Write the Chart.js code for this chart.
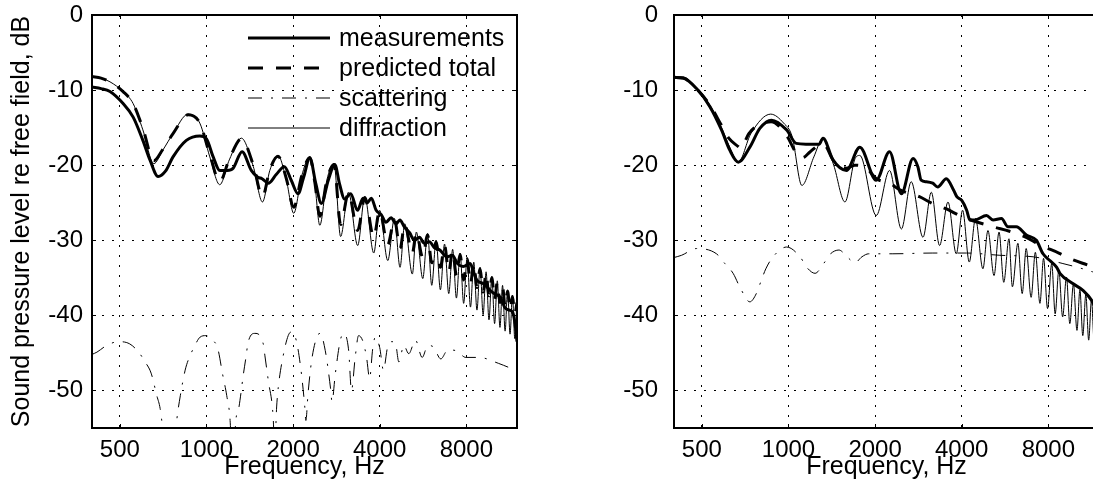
<!DOCTYPE html>
<html lang="en">
<head>
<meta charset="UTF-8">
<title>Sound pressure level re free field</title>
<script src="https://cdn.jsdelivr.net/npm/chart.js@4.4.1/dist/chart.umd.min.js"></script>
<style>
    html, body {
        margin: 0;
        padding: 0;
        background: #fff;
        overflow: hidden;
        width: 1093px;
        height: 487px;
    }
    .panel { position: absolute; top: 0; }
    #left { left: 0; }
    #right { left: 560px; }
</style>
</head>
<body>
<canvas id="left" class="panel" width="540" height="487"></canvas>
<canvas id="right" class="panel" width="560" height="487"></canvas>

<script>
// axis ticks
const xTicks = [500, 1000, 2000, 4000, 8000];
const yTicks = [-50, -40, -30, -20, -10, 0];
const legendNames = ['measurements', 'predicted total', 'scattering', 'diffraction'];

// ---- left panel, [Hz, dB] ----
const measLeft = [
    [400,-9.6],[430,-9.8],[462,-10.2],[513,-11.8],[556,-13.6],[601,-16.7],[636,-19.3],[679,-21.5],
    [720,-20.8],[765,-18.9],[851,-16.7],[948,-16.1],[1000,-16.5],[1055,-18.9],[1112,-20.7],[1180,-20.7],
    [1238,-20.4],[1329,-18.2],[1431,-20.7],[1508,-21.6],[1560,-21.8],[1640,-22.4],[1750,-21.2],[1865,-20.2],
    [1970,-22.0],[2080,-23.8],[2180,-21.5],[2285,-19.0],[2400,-22.5],[2507,-25.1],[2650,-22.0],[2792,-19.9],
    [2900,-22.5],[3020,-24.5],[3170,-23.8],[3350,-26.0],[3500,-24.4],[3620,-25.0],[3740,-24.4],[3887,-26.0],
    [4050,-26.6],[4205,-27.6],[4380,-27.0],[4560,-27.8],[4700,-27.3],[4870,-28.2],[5080,-29.0],[5280,-30.0],
    [5500,-29.6],[5710,-30.4],[5950,-30.2],[6200,-31.0],[6470,-31.3],[6840,-32.2],[7150,-32.0],[7450,-33.1],
    [7800,-33.5],[8250,-33.1],[8500,-34.4],[8700,-35.3],[9200,-35.8],[9700,-36.7],[10000,-37.1],[10500,-37.6],
    [10900,-39.0],[11300,-39.3],[11600,-39.6],[11800,-41.0],[12000,-43.5]
];
const predLeft = [
    [400,-8.2],[430,-8.4],[462,-8.9],[513,-10.2],[556,-11.8],[601,-15.1],[656,-19.4],[705,-17.9],
    [765,-15.8],[863,-13.3],[948,-14.4],[1027,-18.6],[1112,-22.2],[1200,-19.2],[1322,-16.5],[1455,-20.0],
    [1565,-24.2],[1660,-20.6],[1772,-18.8],[1895,-21.8],[2010,-25.6],[2140,-21.5],[2285,-19.0],[2380,-22.3],
    [2476,-26.8],[2620,-22.0],[2775,-19.9],[2925,-27.9],[3116,-23.7],[3353,-28.7],[3550,-24.3],[3814,-29.6],
    [3996,-26.1],[4266,-30.6],[4500,-27.2],[4706,-31.1],[4886,-27.9],[5193,-31.7],[5362,-29.0],[5645,-32.3],
    [5866,-29.3],[6066,-33.0],[6280,-30.2],[6500,-33.6],[6720,-30.7],[6950,-34.2],[7170,-31.4],[7390,-34.7],
    [7610,-31.9],[7830,-35.3],[8050,-32.5],[8270,-35.8],[8490,-33.1],[8710,-36.3],[8930,-33.8],[9150,-36.9],
    [9370,-34.4],[9590,-37.4],[9810,-35.0],[10030,-37.9],[10250,-35.6],[10470,-38.3],[10690,-36.2],[10910,-38.8],
    [11130,-36.8],[11350,-39.2],[11570,-37.5],[11790,-39.8],[12000,-38.3]
];
const scatLeft = [
    [400,-45.2],[416,-44.9],[450,-44.0],[495,-43.5],[541,-43.8],[581,-44.9],[612,-46.2],[642,-47.7],
    [672,-50.7],[690,-52.4],[703,-54.9],[740,-65],[789,-53.8],[811,-50.7],[843,-47.3],[867,-45.8],
    [901,-44.4],[950,-42.9],[994,-42.7],[1042,-43.2],[1094,-44.4],[1137,-47.8],[1176,-50.7],[1208,-54.0],
    [1235,-62],[1262,-54.4],[1297,-52.2],[1344,-47.8],[1371,-45.6],[1395,-43.6],[1474,-42.4],[1575,-43.8],
    [1595,-45.3],[1640,-48.7],[1705,-53.6],[1725,-58],[1753,-52.2],[1776,-49.6],[1849,-45.3],[1923,-42.7],
    [1970,-42.2],[2050,-43.3],[2124,-46.9],[2194,-52.0],[2215,-54.0],[2254,-50.4],[2320,-46.0],[2417,-42.9],
    [2483,-42.4],[2587,-44.7],[2700,-49.8],[2730,-51.5],[2803,-47.8],[2919,-43.3],[2998,-42.4],[3120,-44.7],
    [3190,-50.0],[3287,-45.6],[3377,-42.7],[3500,-43.5],[3600,-45.6],[3690,-48.4],[3780,-44.5],[3860,-42.9],
    [4000,-44.3],[4120,-47.3],[4261,-44.2],[4400,-43.5],[4542,-43.8],[4661,-46.2],[4850,-44.0],[5046,-45.1],
    [5325,-43.3],[5618,-45.6],[5880,-44.0],[6146,-44.2],[6522,-45.8],[6900,-44.6],[7367,-44.7],[7969,-45.6],
    [8850,-45.6],[10360,-46.4],[11540,-47.1],[12000,-47.3]
];
const diffLeft = [
    [400,-8.2],[430,-8.4],[462,-8.9],[513,-10.2],[556,-11.8],[601,-15.3],[656,-19.8],[705,-18.0],
    [765,-15.8],[863,-13.2],[948,-14.4],[1027,-18.9],[1112,-22.6],[1200,-19.3],[1322,-16.4],[1455,-20.2],
    [1565,-24.9],[1660,-20.7],[1772,-18.7],[1895,-22.0],[2010,-26.4],[2140,-21.5],[2285,-18.9],[2380,-22.5],
    [2476,-28.0],[2620,-22.0],[2775,-19.8],[2925,-29.5],[3116,-23.6],[3353,-30.7],[3550,-24.2],[3814,-31.7],
    [3996,-26.0],[4266,-32.7],[4500,-27.1],[4706,-33.6],[4886,-27.8],[5193,-34.5],[5362,-28.9],[5645,-35.1],
    [5866,-29.1],[6066,-36.0],[6280,-30.0],[6500,-36.6],[6720,-30.5],[6950,-37.1],[7170,-31.2],[7390,-37.7],
    [7610,-31.7],[7830,-38.4],[8050,-32.3],[8270,-38.9],[8490,-32.9],[8710,-39.3],[8930,-33.6],[9150,-39.9],
    [9370,-34.2],[9590,-40.6],[9810,-34.8],[10030,-41.1],[10250,-35.4],[10470,-41.6],[10690,-36.0],[10910,-42.1],
    [11130,-36.6],[11350,-42.5],[11570,-37.3],[11790,-43.1],[12000,-38.0]
];

// ---- right panel ----
const measRight = [
    [400,-8.3],[431,-8.4],[479,-9.8],[533,-12.2],[585,-15.3],[625,-18.0],[669,-19.6],[734,-17.6],
    [795,-15.1],[873,-14.0],[985,-15.3],[1064,-17.1],[1150,-17.2],[1278,-17.2],[1318,-16.4],[1428,-19.3],
    [1590,-20.7],[1770,-17.6],[2018,-22.0],[2245,-18.2],[2468,-23.8],[2710,-19.1],[2816,-20.2],[2891,-22.0],
    [3012,-22.2],[3172,-22.4],[3300,-22.9],[3536,-21.8],[3746,-23.3],[3845,-24.2],[4001,-24.7],[4162,-26.0],
    [4270,-27.3],[4441,-27.3],[4878,-26.7],[5140,-27.3],[5497,-27.1],[5791,-28.2],[6193,-28.2],[6707,-29.3],
    [7268,-30.0],[7668,-31.8],[8098,-32.7],[8555,-33.6],[8777,-34.4],[9760,-35.8],[10580,-36.7],[11310,-38.0],
    [12000,-40.0]
];
const predRight = [
    [400,-8.3],[431,-8.4],[479,-9.8],[533,-12.0],[585,-14.7],[620,-16.4],[672,-17.6],[680,-17.8],
    [728,-15.8],[768,-14.9],[870,-14.2],[983,-16.0],[1077,-18.7],[1120,-19.0],[1190,-18.2],[1290,-17.3],
    [1330,-17.3],[1429,-19.3],[1594,-20.4],[1700,-20.0],[1865,-20.4],[2020,-21.8],[2245,-22.4],[2440,-23.3],
    [2850,-24.2],[3165,-25.1],[3525,-25.8],[4030,-26.9],[5135,-28.2],[5860,-28.8],[6700,-29.6],[7460,-30.6],
    [8700,-31.7],[9600,-32.5],[11450,-33.6],[12000,-34.0]
];
const scatRight = [
    [400,-32.3],[425,-32.0],[479,-31.1],[562,-31.8],[601,-33.1],[642,-34.4],[677,-36.2],[734,-38.2],
    [773,-37.1],[805,-35.3],[834,-33.8],[884,-32.2],[985,-30.9],[1097,-32.2],[1157,-33.6],[1237,-34.4],
    [1325,-33.1],[1400,-31.8],[1497,-31.3],[1608,-32.3],[1700,-33.0],[1800,-32.2],[1900,-31.8],[2305,-31.8],
    [3175,-31.7],[4160,-31.7],[5430,-32.0],[7080,-32.2],[8990,-33.1],[10540,-33.8],[11400,-34.2],[12000,-34.4]
];
const diffRight = [
    [400,-8.3],[431,-8.4],[479,-9.8],[533,-12.0],[585,-15.0],[625,-17.6],[669,-19.6],[740,-15.8],
    [867,-13.2],[962,-14.4],[1030,-16.2],[1113,-22.7],[1225,-18.9],[1318,-16.4],[1436,-20.0],[1571,-24.9],
    [1705,-19.1],[1770,-18.7],[2018,-26.7],[2245,-20.7],[2468,-28.5],[2670,-22.2],[2934,-29.6],[3136,-23.6],
    [3350,-30.7],[3584,-24.9],[3829,-31.8],[4028,-26.0],[4249,-32.9],[4466,-27.1],[4739,-33.8],[4934,-28.7],
    [5180,-34.7],[5392,-28.9],[5600,-35.6],[5837,-29.8],[6000,-36.2],[6270,-30.4],[6490,-37.1],[6700,-31.1],
    [6970,-37.6],[7210,-31.6],[7480,-38.4],[7700,-32.4],[7950,-39.1],[8220,-33.1],[8450,-39.8],[8700,-34.0],
    [8970,-40.2],[9250,-34.9],[9500,-41.1],[9780,-35.8],[10060,-42.0],[10300,-36.6],[10540,-42.7],[10800,-37.2],
    [11050,-43.3],[11300,-37.9],[11560,-43.8],[11800,-38.5],[12000,-44.0]
];

// line styles: measurements, predicted total, scattering, diffraction
const styles = [
    { width: 3, dash: [] },
    { width: 3, dash: [15, 13] },
    { width: 1, dash: [14, 9, 2, 9] },
    { width: 1, dash: [] }
];

Chart.defaults.font.family = "'Liberation Sans', Arial, Helvetica, sans-serif";
Chart.defaults.color = '#000';

const toPts = arr => arr.map(p => ({ x: p[0], y: p[1] }));

function series(arrs) {
    return arrs.map((arr, i) => ({
        label: legendNames[i],
        data: toPts(arr),
        borderColor: '#000',
        borderWidth: styles[i].width,
        borderDash: styles[i].dash,
        pointRadius: 0,
        fill: false,
        cubicInterpolationMode: 'monotone'
    }));
}

// box round the plot with inward tick marks
const boxPlugin = {
    id: 'box',
    afterDatasetsDraw(chart) {
        const { ctx, chartArea: a, scales: { x, y } } = chart;
        ctx.save();
        ctx.strokeStyle = '#000';
        ctx.setLineDash([]);
        ctx.lineWidth = 1;
        ctx.beginPath();
        xTicks.forEach(v => {
            const px = Math.round(x.getPixelForValue(v)) + 0.5;
            ctx.moveTo(px, a.bottom); ctx.lineTo(px, a.bottom - 4);
            ctx.moveTo(px, a.top); ctx.lineTo(px, a.top + 4);
        });
        yTicks.forEach(v => {
            const py = Math.round(y.getPixelForValue(v)) + 0.5;
            ctx.moveTo(a.left, py); ctx.lineTo(a.left + 4, py);
            ctx.moveTo(a.right, py); ctx.lineTo(a.right - 4, py);
        });
        ctx.stroke();
        ctx.lineWidth = 2;
        ctx.strokeRect(a.left, a.top, a.right - a.left, a.bottom - a.top);
        ctx.restore();
    }
};

// legend sits inside the left plot, top right
const keyPlugin = {
    id: 'key',
    afterDraw(chart) {
        const ctx = chart.ctx;
        ctx.save();
        ctx.strokeStyle = '#000';
        ctx.fillStyle = '#000';
        ctx.font = "25px 'Liberation Sans', Arial, sans-serif";
        ctx.textBaseline = 'middle';
        legendNames.forEach((name, i) => {
            const yy = 38 + i * 30;
            ctx.lineWidth = styles[i].width;
            ctx.setLineDash(styles[i].dash);
            ctx.beginPath();
            ctx.moveTo(248, yy);
            ctx.lineTo(330, yy);
            ctx.stroke();
            ctx.fillText(name, 339, yy + 1);
        });
        ctx.restore();
    }
};

function makeChart(id, arrs, o) {
    return new Chart(document.getElementById(id), {
        type: 'line',
        data: { datasets: series(arrs) },
        options: {
            responsive: false,
            animation: false,
            devicePixelRatio: 1,
            layout: { padding: { top: 15, right: o.padRight, left: 0, bottom: 0 } },
            plugins: { legend: { display: false }, tooltip: { enabled: false } },
            scales: {
                x: {
                    type: 'logarithmic',
                    min: 400,
                    max: 12000,
                    afterBuildTicks: s => { s.ticks = xTicks.map(v => ({ value: v })); },
                    afterFit: s => { s.height = 59; s.paddingLeft = 0; s.paddingRight = 0; },
                    grid: { color: '#000', lineWidth: 1, drawTicks: false },
                    border: { display: false, dash: [2, 8] },
                    ticks: {
                        padding: 8, autoSkip: false, maxRotation: 0,
                        font: { size: 24 },
                        callback: v => String(v)
                    },
                    title: {
                        display: true, text: 'Frequency, Hz',
                        font: { size: 25 }, padding: { top: 0, bottom: 5 }
                    }
                },
                y: {
                    type: 'linear',
                    min: -55,
                    max: 0,
                    afterBuildTicks: s => { s.ticks = yTicks.map(v => ({ value: v })); },
                    // keep the label overflow from pushing the plot area down
                    afterFit: s => { s.width = o.yWidth; s.paddingTop = 0; s.paddingBottom = 0; },
                    grid: { color: '#000', lineWidth: 1, drawTicks: false },
                    border: { display: false, dash: [2, 8] },
                    ticks: { padding: o.tickPad, font: { size: 24 }, callback: v => String(v) },
                    title: {
                        display: o.yTitle, text: 'Sound pressure level re free field, dB',
                        font: { size: 25 }, padding: { top: 7, bottom: 0 }
                    }
                }
            }
        },
        plugins: o.plugins
    });
}

makeChart('left', [measLeft, predLeft, scatLeft, diffLeft],
    { padRight: 23, yWidth: 92, tickPad: 9, yTitle: true, plugins: [boxPlugin, keyPlugin] });
makeChart('right', [measRight, predRight, scatRight, diffRight],
    { padRight: 21, yWidth: 114, tickPad: 16, yTitle: false, plugins: [boxPlugin] });
</script>
</body>
</html>
